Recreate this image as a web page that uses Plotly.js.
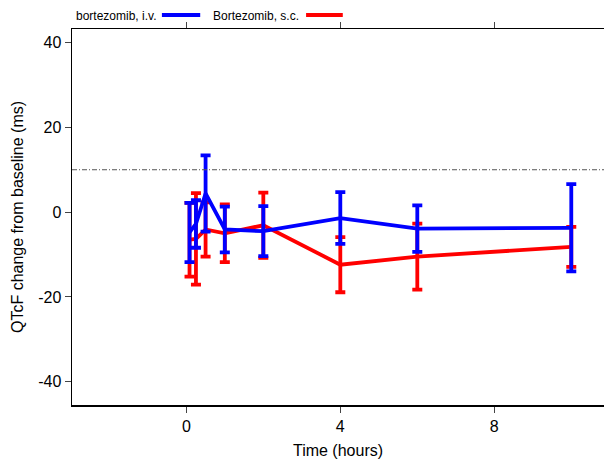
<!DOCTYPE html>
<html>
<head>
<meta charset="utf-8">
<script src="https://cdn.plot.ly/plotly-3.0.1.min.js"></script>
<style>html,body{margin:0;padding:0;background:#fff;}#chart{width:604px;height:459px;}</style>
</head>
<body>
<div id="chart"></div>
<script>
// Data
var timeHours = [0.083, 0.25, 0.5, 1, 2, 4, 6, 10];
var ivMean  = [-4.8, -2.8, 4.4, -4.1, -4.5, -1.4, -3.9, -3.7];
var ivErr   = [7.0, 5.6, 9.0, 5.4, 5.9, 6.1, 5.5, 10.3];
var scMean  = [-6.5, -6.3, -4.1, -5.0, -3.1, -12.4, -10.5, -8.2];
var scErr   = [8.7, 10.8, 6.4, 6.8, 7.7, 6.5, 7.8, 4.7];
var seriesNames = ["bortezomib, i.v.", "Bortezomib, s.c."];
var xTicks = [0, 4, 8];
var yTicks = [-40, -20, 0, 20, 40];
var refLine = 10;

var FONT = "Arial, 'Liberation Sans', sans-serif";

var traces = [
  {
    x: timeHours, y: scMean, type: "scatter", mode: "lines", name: seriesNames[1],
    line: {color: "#ff0000", width: 3.8},
    error_y: {type: "data", array: scErr, visible: true, color: "#ff0000", thickness: 3.8, width: 5},
    showlegend: false
  },
  {
    x: timeHours, y: ivMean, type: "scatter", mode: "lines", name: seriesNames[0],
    line: {color: "#0000ff", width: 3.8},
    error_y: {type: "data", array: ivErr, visible: true, color: "#0000ff", thickness: 3.8, width: 5},
    showlegend: false
  }
];

var layout = {
  width: 604, height: 459,
  margin: {l: 72, r: 0, t: 29, b: 54, pad: 0},
  paper_bgcolor: "#fff", plot_bgcolor: "#fff",
  font: {family: FONT, color: "#000", size: 16},
  showlegend: false,
  xaxis: {
    range: [-2.97, 10.85], tickvals: xTicks, ticktext: xTicks.map(String),
    ticks: "outside", ticklen: 6, tickwidth: 1, tickcolor: "#444",
    showline: true, linecolor: "#000", linewidth: 1.5, mirror: "ticks",
    showgrid: false, zeroline: false,
    tickfont: {size: 16, family: FONT},
    title: {text: "Time (hours)", font: {size: 16, family: FONT}, standoff: 11}
  },
  yaxis: {
    range: [-45.5, 43.2], tickvals: yTicks, ticktext: yTicks.map(String),
    ticks: "outside", ticklen: 6, tickwidth: 1, tickcolor: "#444",
    showline: true, linecolor: "#000", linewidth: 1.5,
    showgrid: false, zeroline: false,
    tickfont: {size: 16, family: FONT},
    title: {text: "QTcF change from baseline (ms)", font: {size: 16, family: FONT}, standoff: 10}
  },
  shapes: [
    {type: "line", xref: "paper", x0: 0, x1: 1, yref: "y", y0: refLine, y1: refLine,
     line: {color: "#555", width: 1, dash: "5px,2px,1px,2px"}},
    {type: "line", xref: "paper", yref: "paper", x0: 0.169, x1: 0.241, y0: 1.037, y1: 1.037,
     line: {color: "#0000ff", width: 4}},
    {type: "line", xref: "paper", yref: "paper", x0: 0.44, x1: 0.509, y0: 1.037, y1: 1.037,
     line: {color: "#ff0000", width: 4}}
  ],
  annotations: [
    {xref: "paper", yref: "paper", x: 0.004, y: 1.035, xanchor: "left", yanchor: "middle",
     text: seriesNames[0], showarrow: false, font: {size: 12, family: FONT, color: "#000"}},
    {xref: "paper", yref: "paper", x: 0.262, y: 1.035, xanchor: "left", yanchor: "middle",
     text: seriesNames[1], showarrow: false, font: {size: 12, family: FONT, color: "#000"}}
  ]
};

Plotly.newPlot("chart", traces, layout, {displayModeBar: false, staticPlot: true});
</script>
</body>
</html>
